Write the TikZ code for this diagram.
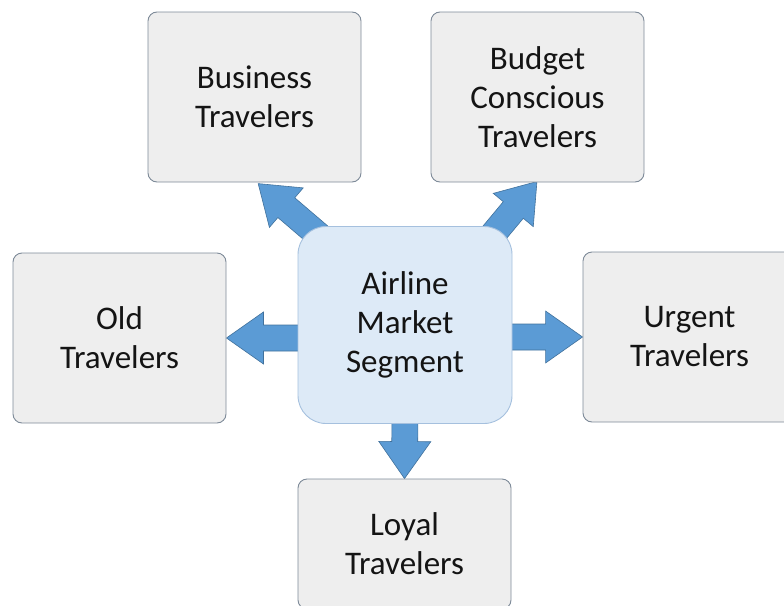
\documentclass[tikz,border=0pt]{standalone}
\usepackage{fontspec}
\setmainfont{Carlito}
\usetikzlibrary{calc}
\pgfdeclarelayer{bg}
\pgfsetlayers{bg,main}
\definecolor{boxfill}{RGB}{238,238,238}
\definecolor{boxline}{RGB}{125,138,152}
\definecolor{cenfill}{RGB}{221,234,247}
\definecolor{cenline}{RGB}{165,192,222}
\definecolor{arrfill}{RGB}{91,155,213}
\definecolor{arrline}{RGB}{65,113,156}
\definecolor{txt}{RGB}{20,20,20}
\newcommand\blkarrow[2]{%
  \path let \p1=(#1), \p2=(#2),
    \n1={atan2(\y2-\y1,\x2-\x1)}, \n2={veclen(\x2-\x1,\y2-\y1)} in
    \pgfextra{\xdef\arrang{\n1}\xdef\arrlen{\n2}\xdef\arrx{\x1}\xdef\arry{\y1}};
  \begin{scope}[shift={(\arrx,\arry)}, rotate=\arrang]
    \draw[blockarr] (0pt,13pt) -- ({\arrlen-37pt},13pt) -- ({\arrlen-37pt},26pt)
      -- ({\arrlen},0pt) -- ({\arrlen-37pt},-26pt) -- ({\arrlen-37pt},-13pt)
      -- (0pt,-13pt) -- cycle;
  \end{scope}}
\begin{document}
\begin{tikzpicture}[x=1pt,y=-1pt,
  segbox/.style={draw=boxline, fill=boxfill, line width=0.9pt, rounded corners=9pt,
    minimum width=213pt, minimum height=170pt, align=center, inner sep=0pt,
    text=txt, font=\fontsize{33}{39}\selectfont},
  cenbox/.style={segbox, draw=cenline, fill=cenfill, rounded corners=28pt,
    minimum width=214pt, minimum height=197pt},
  blockarr/.style={fill=arrfill, draw=arrline, line width=0.6pt, line join=miter}]
\useasboundingbox (0,0) rectangle (784,605);
\clip (0,0) rectangle (784,605);
\node[segbox] (business) at (254.5,97) {Business\\Travelers};
\node[segbox] (budget) at (537.5,97) {Budget\\Conscious\\Travelers};
\node[segbox] (old) at (119.5,338) {Old\\Travelers};
\node[segbox] (urgent) at (689.5,337) {Urgent\\Travelers};
\node[segbox, minimum height=130pt] (loyal) at (404.5,544) {Loyal\\Travelers};
\node[cenbox] (center) at (405,325) {Airline\\Market\\Segment};
\begin{pgfonlayer}{bg}
  \blkarrow{$(center.north west)+(29,16)$}{$(business.south)+(3.5,1)$}
  \blkarrow{$(center.north east)+(-30,21)$}{$(budget.south)+(-0.5,-1)$}
  \blkarrow{$(center.west |- old.east)+(15,0)$}{old.east}
  \blkarrow{$(center.east |- urgent.west)+(-15,0)$}{urgent.west}
  \blkarrow{$(center.south)+(0,-15)$}{loyal.north}
\end{pgfonlayer}
\end{tikzpicture}
\end{document}
